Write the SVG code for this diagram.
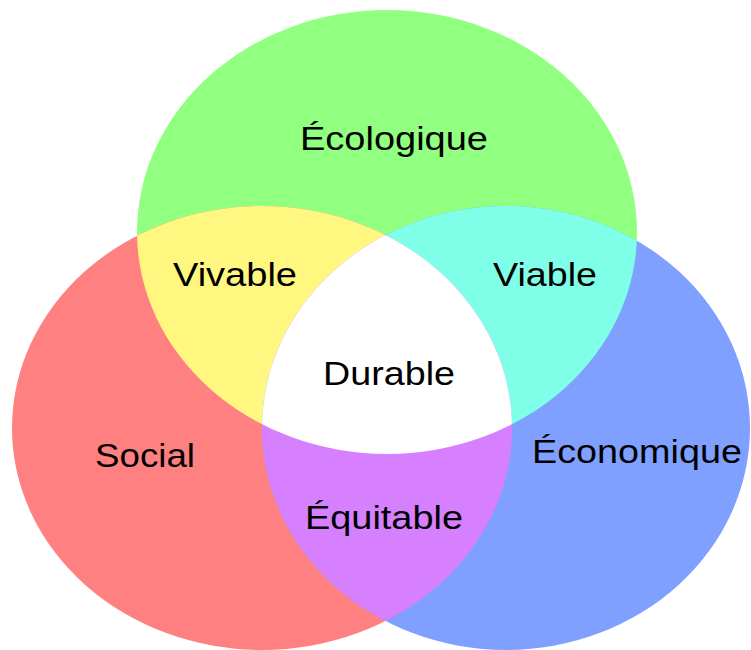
<svg xmlns="http://www.w3.org/2000/svg" width="751" height="650" viewBox="0 0 751 650">
<style>
text{font-family:"Liberation Sans",Arial,sans-serif;font-size:33px;fill:#000;text-anchor:start}
</style>
<defs>
<clipPath id="cG"><ellipse cx="387" cy="232" rx="250" ry="222"/></clipPath>
<clipPath id="cR"><ellipse cx="262" cy="428" rx="250" ry="222"/></clipPath>
</defs>
<rect width="751" height="650" fill="#fff"/>
<g id="ecologique">
<ellipse cx="387" cy="232" rx="250" ry="222" fill="#91ff80"/>
<text x="300" y="150" textLength="188" lengthAdjust="spacingAndGlyphs">Écologique</text>
</g>
<g id="social">
<ellipse cx="262" cy="428" rx="250" ry="222" fill="#ff8080"/>
<text x="95" y="467" textLength="100" lengthAdjust="spacingAndGlyphs">Social</text>
</g>
<g id="economique">
<ellipse cx="506" cy="428" rx="244" ry="222" fill="#80a0ff"/>
<text x="532" y="463" textLength="210" lengthAdjust="spacingAndGlyphs">Économique</text>
</g>
<g id="vivable">
<ellipse cx="262" cy="428" rx="250" ry="222" fill="#fff780" clip-path="url(#cG)"/>
<text x="173" y="286" textLength="124" lengthAdjust="spacingAndGlyphs">Vivable</text>
</g>
<g id="viable">
<ellipse cx="506" cy="428" rx="244" ry="222" fill="#80ffe8" clip-path="url(#cG)"/>
<text x="493" y="286" textLength="104" lengthAdjust="spacingAndGlyphs">Viable</text>
</g>
<g id="equitable">
<ellipse cx="506" cy="428" rx="244" ry="222" fill="#d780ff" clip-path="url(#cR)"/>
<text x="305" y="529" textLength="158" lengthAdjust="spacingAndGlyphs">Équitable</text>
</g>
<g id="durable">
<g clip-path="url(#cG)"><ellipse cx="506" cy="428" rx="244" ry="222" fill="#fff" clip-path="url(#cR)"/></g>
<text x="323" y="385" textLength="132" lengthAdjust="spacingAndGlyphs">Durable</text>
</g>
<g id="connectors"/>
</svg>
